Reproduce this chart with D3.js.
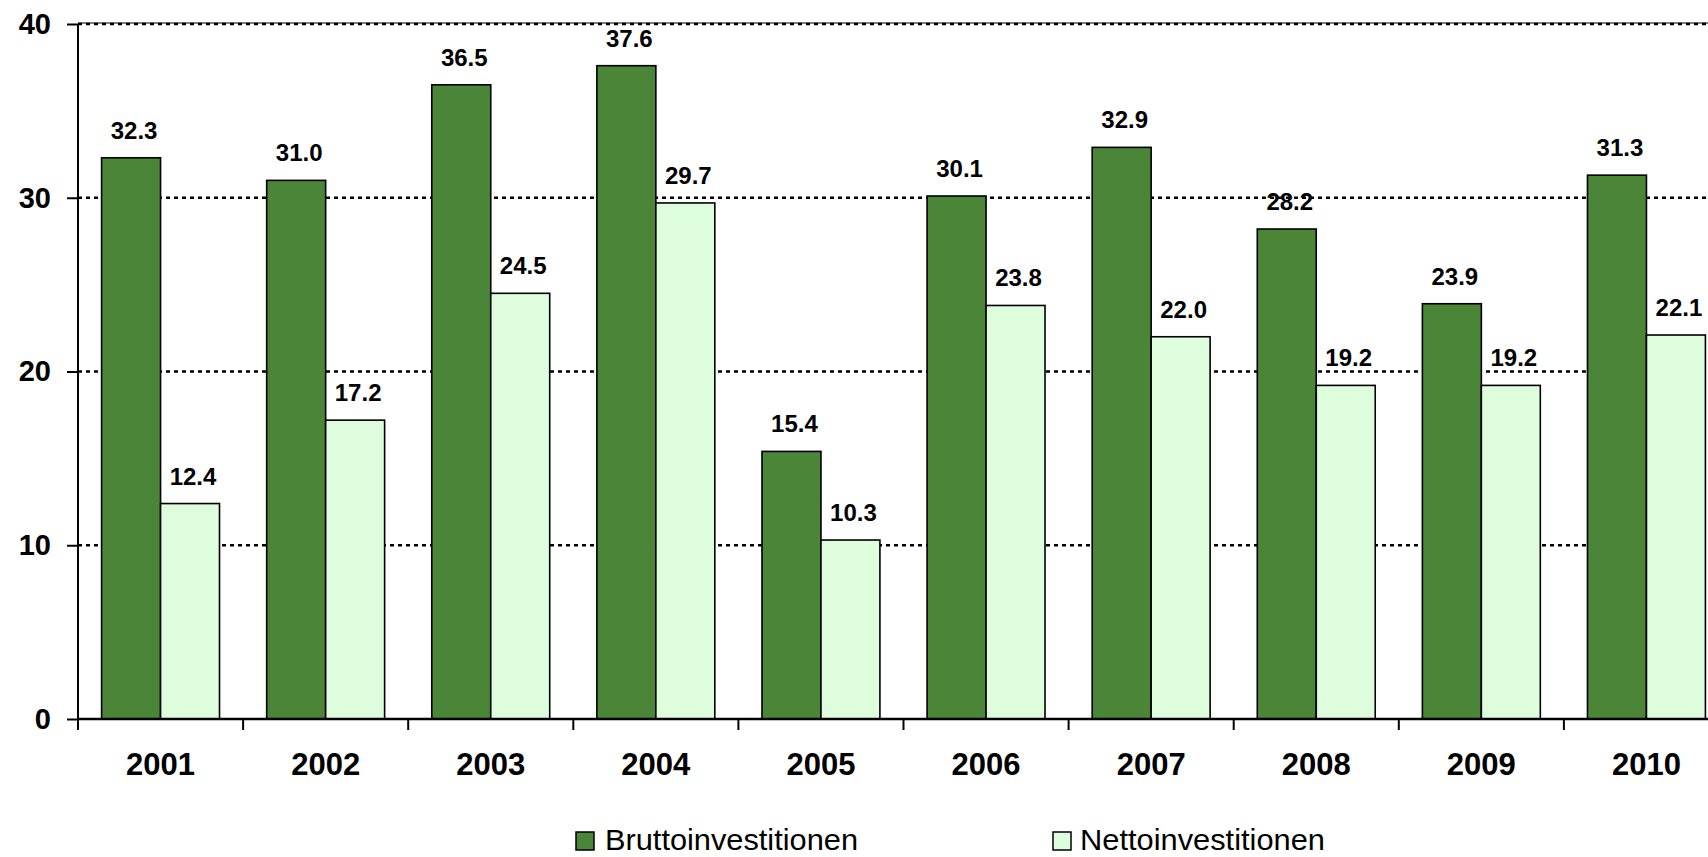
<!DOCTYPE html>
<html>
<head>
<meta charset="utf-8">
<script src="https://cdn.jsdelivr.net/npm/d3@7"></script>
<style>
  body { margin: 0; background: #fff; }
  svg { display: block; font-family: "Liberation Sans", Arial, sans-serif; }
</style>
</head>
<body>
<div id="chart"></div>
<script>
const years = ['2001', '2002', '2003', '2004', '2005', '2006', '2007', '2008', '2009', '2010'];
const brutto = [32.3, 31.0, 36.5, 37.6, 15.4, 30.1, 32.9, 28.2, 23.9, 31.3];
const netto = [12.4, 17.2, 24.5, 29.7, 10.3, 23.8, 22.0, 19.2, 19.2, 22.1];
const seriesNames = ['Bruttoinvestitionen', 'Nettoinvestitionen'];
const seriesColors = ['#4a8538', '#ddfddd'];
const yTicks = [0, 10, 20, 30, 40];

function drawChart() {
  const W = 1708, H = 857;
  const left = 78, top = 24, bottom = 719;
  const band = 165.1;

  const svg = d3.select('#chart').append('svg')
    .attr('width', W)
    .attr('height', H);

  const x = d3.scaleBand()
    .domain(years)
    .range([left, left + band * years.length])
    .padding(0);

  const xs = d3.scaleBand()
    .domain(seriesNames)
    .range([0, x.bandwidth()])
    .paddingInner(0)
    .paddingOuter(0.4);

  const y = d3.scaleLinear()
    .domain([0, 40])
    .range([bottom, top]);

  // gridlines
  svg.append('g')
    .selectAll('line')
    .data(yTicks.filter(d => d > 0))
    .join('line')
    .attr('x1', left)
    .attr('x2', W)
    .attr('y1', d => y(d))
    .attr('y2', d => y(d))
    .attr('stroke', '#000')
    .attr('stroke-width', 2.5)
    .attr('stroke-dasharray', '4,4');

  // top border of plot area
  svg.append('line')
    .attr('x1', left).attr('x2', W)
    .attr('y1', y(40) - 1).attr('y2', y(40) - 1)
    .attr('stroke', '#000')
    .attr('stroke-width', 1.2);

  const table = years.map((yr, i) => ({ year: yr, values: [brutto[i], netto[i]] }));

  const groups = svg.append('g')
    .selectAll('g')
    .data(table)
    .join('g')
    .attr('transform', d => `translate(${x(d.year)},0)`);

  groups.selectAll('rect')
    .data(d => d.values.map((v, k) => ({ name: seriesNames[k], value: v, k: k })))
    .join('rect')
    .attr('x', d => xs(d.name))
    .attr('y', d => y(d.value))
    .attr('width', xs.bandwidth())
    .attr('height', d => y(0) - y(d.value))
    .attr('fill', d => seriesColors[d.k])
    .attr('stroke', '#000')
    .attr('stroke-width', 1.6);

  groups.selectAll('text')
    .data(d => d.values.map((v, k) => ({ name: seriesNames[k], value: v })))
    .join('text')
    .attr('x', d => xs(d.name) + xs.bandwidth() / 2 + 3)
    .attr('y', d => y(d.value) - 19)
    .attr('text-anchor', 'middle')
    .attr('font-size', 24)
    .attr('font-weight', 'bold')
    .text(d => d.value.toFixed(1));

  // y axis
  const yAxis = d3.axisLeft(y)
    .tickValues(yTicks)
    .tickSize(11)
    .tickPadding(16)
    .tickFormat(d3.format('d'));

  const gy = svg.append('g')
    .attr('transform', `translate(${left},0)`)
    .call(yAxis);
  gy.select('.domain').attr('stroke-width', 2).attr('d', `M0,${top}V${bottom}`);
  gy.selectAll('.tick line').attr('stroke-width', 2);
  gy.selectAll('.tick text')
    .attr('font-size', 29)
    .attr('font-weight', 'bold')
    .attr('font-family', '"Liberation Sans", Arial, sans-serif')
    .attr('fill', '#000');

  // x axis
  const xAxis = d3.axisBottom(x)
    .tickSize(0)
    .tickPadding(34);
  const gx = svg.append('g')
    .attr('transform', `translate(0,${bottom})`)
    .call(xAxis);
  gx.select('.domain').attr('stroke-width', 2.4).attr('d', `M${left},0H${W}`);
  gx.selectAll('.tick text')
    .attr('font-size', 31)
    .attr('font-weight', 'bold')
    .attr('font-family', '"Liberation Sans", Arial, sans-serif')
    .attr('fill', '#000');

  // category separators
  svg.append('g')
    .selectAll('line')
    .data(years.concat(['end']))
    .join('line')
    .attr('x1', (d, i) => left + i * x.step())
    .attr('x2', (d, i) => left + i * x.step())
    .attr('y1', bottom)
    .attr('y2', bottom + 11)
    .attr('stroke', '#000')
    .attr('stroke-width', 2);

  // legend
  const legendX = [576, 1053];
  const legend = svg.append('g')
    .selectAll('g')
    .data(seriesNames)
    .join('g')
    .attr('transform', (d, i) => `translate(${legendX[i]},832)`);
  legend.append('rect')
    .attr('width', 18)
    .attr('height', 18)
    .attr('fill', (d, i) => seriesColors[i])
    .attr('stroke', '#000')
    .attr('stroke-width', 1.5);
  legend.append('text')
    .attr('x', (d, i) => i === 0 ? 29 : 27)
    .attr('y', 18)
    .attr('font-size', 29)
    .attr('textLength', (d, i) => i === 0 ? 253 : 245)
    .attr('lengthAdjust', 'spacingAndGlyphs')
    .text(d => d);
}

window.onload = function() {
  drawChart();
};
</script>
</body>
</html>
